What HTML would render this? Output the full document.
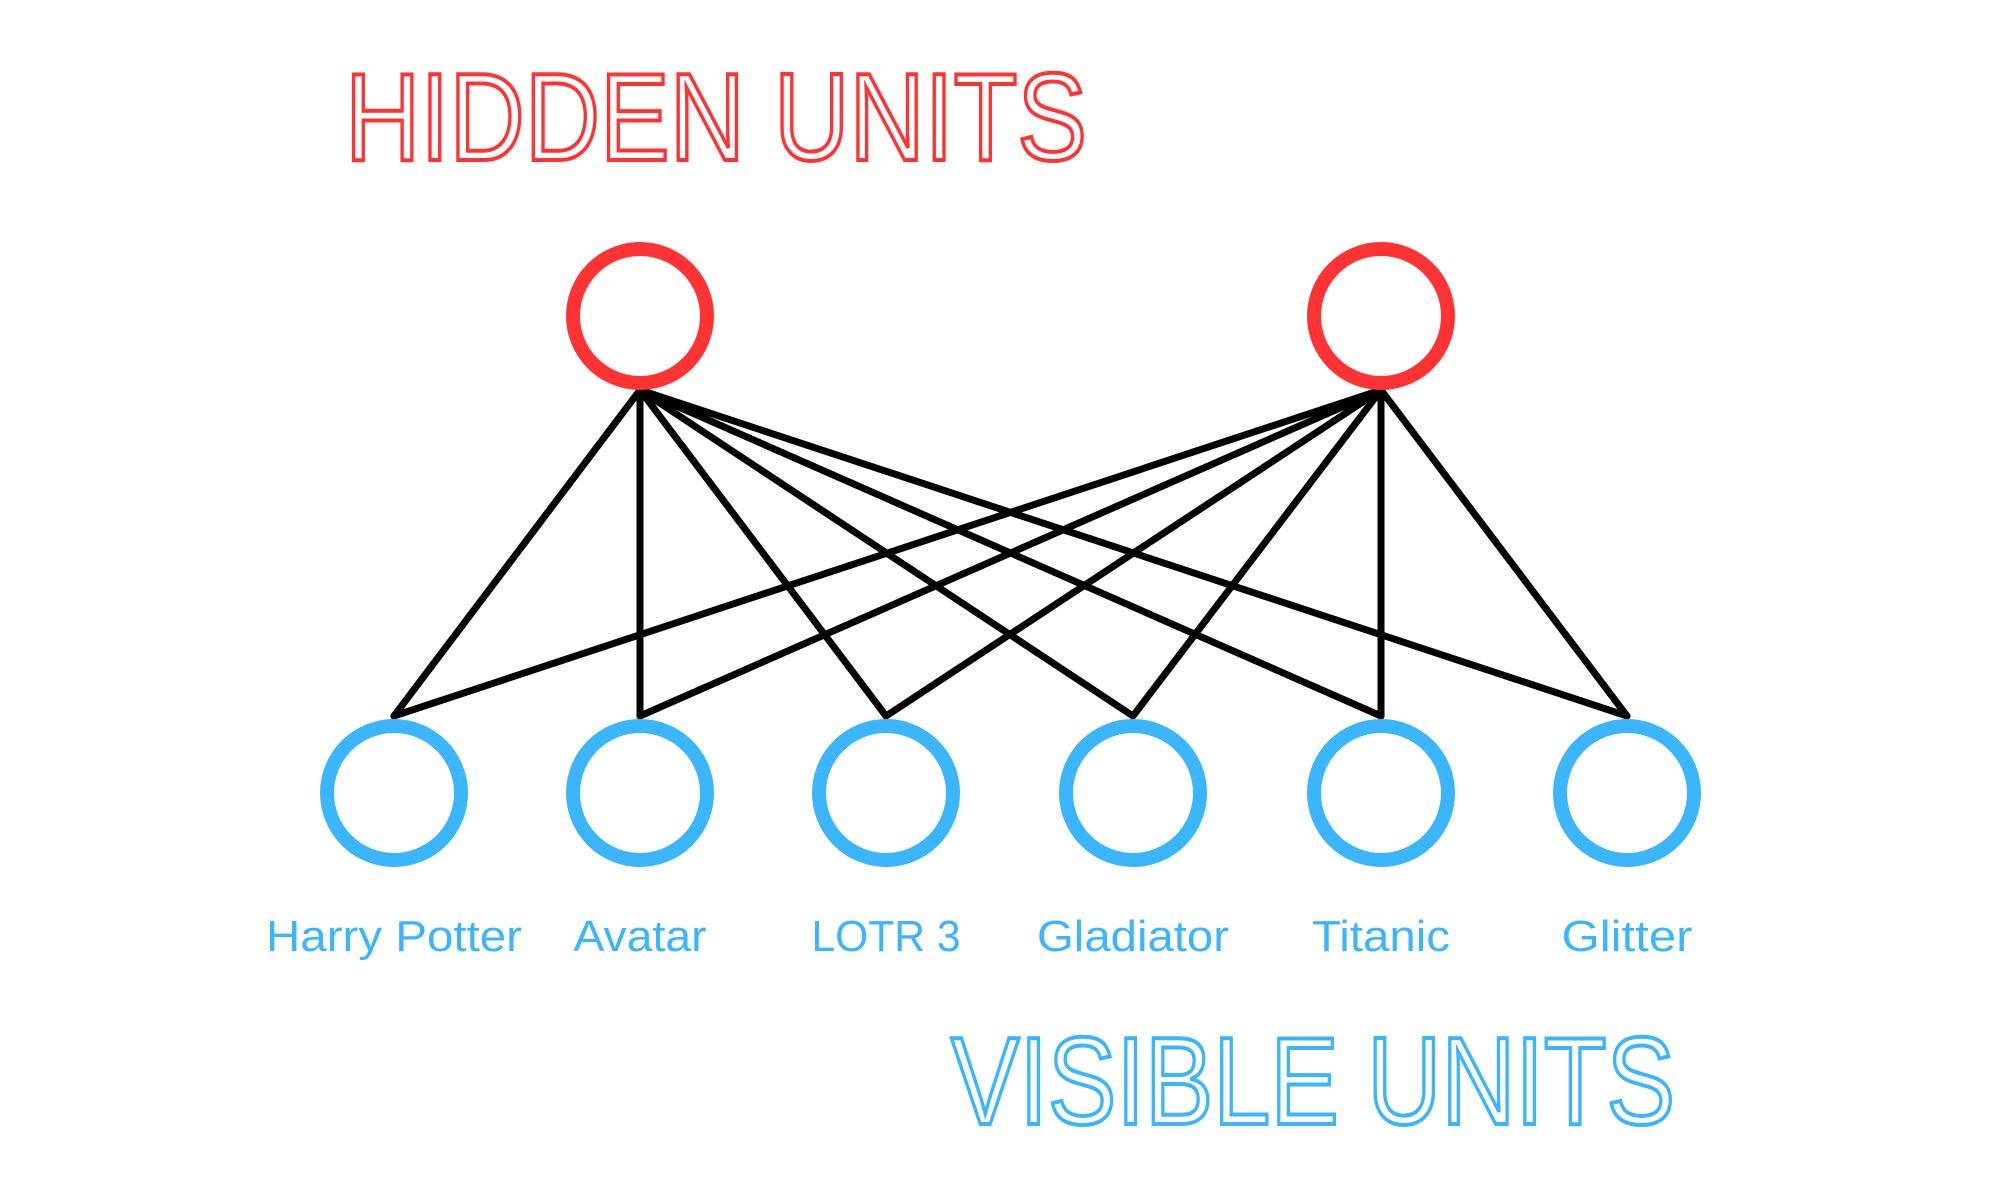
<!DOCTYPE html>
<html><head><style>html,body{margin:0;padding:0;background:#fff;}svg{display:block}</style></head>
<body>
<svg width="2000" height="1194" viewBox="0 0 2000 1194" xmlns="http://www.w3.org/2000/svg">
<rect width="2000" height="1194" fill="#fff"/>
<text x="345" y="160" font-family="Liberation Sans, sans-serif" font-size="124" textLength="742" lengthAdjust="spacingAndGlyphs" fill="#fff" stroke="#ff3333" stroke-width="4">HIDDEN UNITS</text>
<text x="951" y="1124" font-family="Liberation Sans, sans-serif" font-size="124" textLength="724" lengthAdjust="spacingAndGlyphs" fill="#fff" stroke="#3bb5fb" stroke-width="4">VISIBLE UNITS</text>
<g stroke="#000" stroke-width="7" stroke-linecap="round">
<line x1="640" y1="390" x2="394" y2="716"/>
<line x1="640" y1="390" x2="640" y2="716"/>
<line x1="640" y1="390" x2="886" y2="716"/>
<line x1="640" y1="390" x2="1133" y2="716"/>
<line x1="640" y1="390" x2="1381" y2="716"/>
<line x1="640" y1="390" x2="1627" y2="716"/>
<line x1="1381" y1="390" x2="394" y2="716"/>
<line x1="1381" y1="390" x2="640" y2="716"/>
<line x1="1381" y1="390" x2="886" y2="716"/>
<line x1="1381" y1="390" x2="1133" y2="716"/>
<line x1="1381" y1="390" x2="1381" y2="716"/>
<line x1="1381" y1="390" x2="1627" y2="716"/>
</g>
<g fill="none" stroke="#ff3333" stroke-width="14">
<circle cx="640" cy="316" r="67"/>
<circle cx="1381" cy="316" r="67"/>
</g>
<g fill="none" stroke="#3bb5fb" stroke-width="14">
<circle cx="394" cy="793" r="67"/>
<circle cx="640" cy="793" r="67"/>
<circle cx="886" cy="793" r="67"/>
<circle cx="1133" cy="793" r="67"/>
<circle cx="1381" cy="793" r="67"/>
<circle cx="1627" cy="793" r="67"/>
</g>
<g fill="#3bb5fb" font-family="Liberation Sans, sans-serif" font-size="44" text-anchor="middle" lengthAdjust="spacingAndGlyphs">
<text x="394" y="951" textLength="256" lengthAdjust="spacingAndGlyphs">Harry Potter</text>
<text x="640" y="951" textLength="133" lengthAdjust="spacingAndGlyphs">Avatar</text>
<text x="886" y="951" textLength="149" lengthAdjust="spacingAndGlyphs">LOTR 3</text>
<text x="1133" y="951" textLength="192" lengthAdjust="spacingAndGlyphs">Gladiator</text>
<text x="1381" y="951" textLength="138" lengthAdjust="spacingAndGlyphs">Titanic</text>
<text x="1627" y="951" textLength="131" lengthAdjust="spacingAndGlyphs">Glitter</text>
</g>
</svg>
</body></html>
